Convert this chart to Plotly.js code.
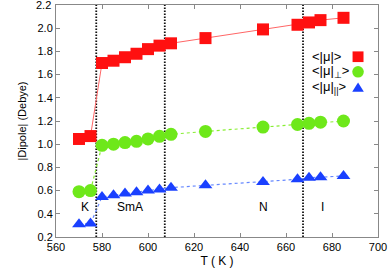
<!DOCTYPE html>
<html><head><meta charset="utf-8">
<script src="https://cdn.plot.ly/plotly-3.0.1.min.js"></script>
<style>html,body{margin:0;padding:0;background:#fff}#c{width:390px;height:274px}</style>
</head><body><div id="c"></div>
<script>
const temps = [570, 575, 580, 585, 590, 595, 600, 605, 610, 625, 650, 665, 670, 675, 685];
const muTotal = [1.045, 1.07, 1.70, 1.72, 1.75, 1.78, 1.82, 1.85, 1.87, 1.915, 1.99, 2.03, 2.05, 2.07, 2.09];
const muPerp = [0.59, 0.60, 0.99, 1.00, 1.014, 1.025, 1.045, 1.068, 1.085, 1.11, 1.148, 1.17, 1.18, 1.19, 1.20];
const muPar = [0.31, 0.315, 0.545, 0.56, 0.574, 0.585, 0.60, 0.61, 0.625, 0.645, 0.674, 0.697, 0.71, 0.715, 0.726];
const transitions = [577.5, 607.3, 667.4];
const phaseNames = ['K', 'SmA', 'N', 'I'];
const phaseX = [572.5, 592, 650, 676];
const phaseY = 0.455;
const xTicks = [560, 580, 600, 620, 640, 660, 680, 700];
const yTicks = [0.2, 0.4, 0.6, 0.8, 1.0, 1.2, 1.4, 1.6, 1.8, 2.0, 2.2];
const legendNames = ['&lt;|μ|&gt;', '&lt;|μ|<sub>⊥</sub>&gt;', '&lt;|μ|<sub>||</sub>&gt;'];

const F = 'Liberation Sans, Arial, sans-serif';
const traces = [
  {x: temps, y: muTotal, mode: 'lines+markers', line: {color: '#ff6666', width: 1},
   marker: {symbol: 'square', size: 12, color: '#ff1010'}},
  {x: temps, y: muPerp, mode: 'lines+markers', line: {color: '#88ee33', width: 1.2, dash: 'dot'},
   marker: {symbol: 'circle', size: 13, color: '#6ee81a'}},
  {x: temps, y: muPar, mode: 'lines+markers', line: {color: '#6688ff', width: 1.2, dash: 'dot'},
   marker: {symbol: 'triangle-up', size: 12, color: '#1a40ff'}}
];

const shapes = transitions.map(t => ({type: 'line', xref: 'x', yref: 'paper', x0: t, x1: t, y0: 0, y1: 1,
  line: {color: '#111', width: 1.8, dash: '1.5px,1.5px'}, layer: 'below'}));
// legend keys
const ly = [0.777, 0.712, 0.644];
const kx = 0.938;
shapes.push({type: 'rect', xref: 'paper', yref: 'paper', x0: kx - 0.017, x1: kx + 0.017, y0: ly[0] - 0.023, y1: ly[0] + 0.023, fillcolor: '#ff1010', line: {width: 0}});
shapes.push({type: 'circle', xref: 'paper', yref: 'paper', x0: kx - 0.018, x1: kx + 0.018, y0: ly[1] - 0.025, y1: ly[1] + 0.025, fillcolor: '#6ee81a', line: {width: 0}});
shapes.push({type: 'path', xref: 'paper', yref: 'paper',
  path: `M ${kx - 0.018} ${ly[2] - 0.018} L ${kx + 0.018} ${ly[2] - 0.018} L ${kx} ${ly[2] + 0.022} Z`, fillcolor: '#1a40ff', line: {width: 0}});

const annotations = phaseNames.map((n, i) => ({x: phaseX[i], y: phaseY, xref: 'x', yref: 'y', text: n, showarrow: false,
  font: {family: F, size: 12, color: '#000'}}));
legendNames.forEach((n, i) => annotations.push({x: 0.79, y: ly[i], xref: 'paper', yref: 'paper', text: n, showarrow: false,
  xanchor: 'left', yanchor: 'middle', font: {family: F, size: 13, color: '#000'}}));
// top tick label (Plotly drops it at the figure edge)
const topTick = yTicks[yTicks.length - 1];
annotations.push({x: 0, y: topTick, xref: 'paper', yref: 'y', text: topTick.toFixed(1), showarrow: false,
  xanchor: 'right', yanchor: 'middle', xshift: -3, font: {family: F, size: 11, color: '#000'}});

const axisCommon = {showgrid: false, zeroline: false, showline: true, linecolor: '#888', linewidth: 1, mirror: 'ticks',
  ticks: 'inside', ticklen: 4, tickcolor: '#888', tickfont: {family: F, size: 11, color: '#000'}};
const layout = {
  width: 390, height: 274, margin: {l: 56, r: 12, t: 5, b: 37},
  paper_bgcolor: '#fff', plot_bgcolor: '#fff', showlegend: false,
  xaxis: Object.assign({}, axisCommon, {range: [560, 700], tickmode: 'array', tickvals: xTicks, ticktext: xTicks.map(String),
    title: {text: 'T ( K )', font: {family: F, size: 12, color: '#000'}, standoff: 4}}),
  yaxis: Object.assign({}, axisCommon, {range: [0.1995, 2.2005], tickmode: 'array', tickvals: yTicks, ticktext: yTicks.map(v => v.toFixed(1)),
    title: {text: '|Dipole| (Debye)', font: {family: F, size: 11, color: '#000'}, standoff: 8}}),
  shapes: shapes, annotations: annotations
};
Plotly.newPlot('c', traces, layout, {staticPlot: true, displayModeBar: false});
</script></body></html>
